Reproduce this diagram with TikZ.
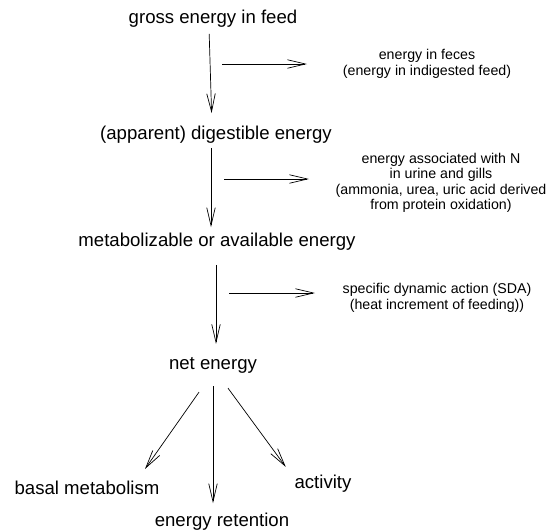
\documentclass[tikz,border=0pt]{standalone}
\usepackage{fontspec}
\setmainfont{Liberation Sans}
\usetikzlibrary{arrows.meta}

\begin{document}
\begin{tikzpicture}[x=1pt, y=1pt,
  stage/.style={inner sep=0pt, font=\fontsize{18.6}{22}\selectfont},
  loss/.style={inner sep=0pt, align=center, font=\fontsize{14.2}{15.5}\selectfont},
  flow/.style={-{Straight Barb[length=18pt, width=8.5pt, line width=0.7pt]}, line width=0.7pt},
]
  \useasboundingbox (0,0) rectangle (550,-531);

  % Stages
  \node[stage] (gross)  at (213,-19)  {gross energy in feed};
  \node[stage] (digest) at (216,-135) {(apparent) digestible energy};
  \node[stage] (metab)  at (217,-242) {metabolizable or available energy};
  \node[stage] (net)    at (213,-365) {net energy};
  \node[stage] (basal)  at (87,-488)  {basal metabolism};
  \node[stage] (retain) at (222,-522) {energy retention};
  \node[stage] (activ)  at (323,-484) {activity};

  % Losses
  \node[loss] (feces) at (427,-64)  {energy in feces\\(energy in indigested feed)};
  \node[loss] (urine) at (441,-183) {energy associated with N\\in urine and gills\\(ammonia, urea, uric acid derived\\from protein oxidation)};
  \node[loss] (sda)   at (437,-298) {specific dynamic action (SDA)\\(heat increment of feeding))};

  % Main flow
  \draw[flow, shorten <=6pt, shorten >=13pt] ([xshift=-4pt]gross.south) -- ([xshift=-4pt]digest.north);
  \draw[flow, shorten <=4pt, shorten >=6pt] ([xshift=-5pt]digest.south) -- ([xshift=-6pt]metab.north);
  \draw[flow, shorten <=14pt, shorten >=13pt] ([xshift=-1pt]metab.south) -- ([xshift=3pt]net.north);

  % Side losses
  \coordinate (f1) at (222,-64);  \coordinate (f2) at (307,-64);
  \coordinate (u1) at (224,-179); \coordinate (u2) at (309,-179);
  \coordinate (s1) at (229,-293); \coordinate (s2) at (315,-293);
  \draw[flow] (f1) -- (f2);
  \draw[flow] (u1) -- (u2);
  \draw[flow] (s1) -- (s2);

  % Partition of net energy
  \draw[flow] ([shift={(-14,-19)}]net.south) -- ([shift={(58,12)}]basal.north);
  \draw[flow] ([yshift=-13pt]net.south) -- ([shift={(-9,10)}]retain.north);
  \draw[flow] ([shift={(15,-15)}]net.south) -- ([shift={(-8.6,8.2)}]activ.north west);
\end{tikzpicture}
\end{document}
